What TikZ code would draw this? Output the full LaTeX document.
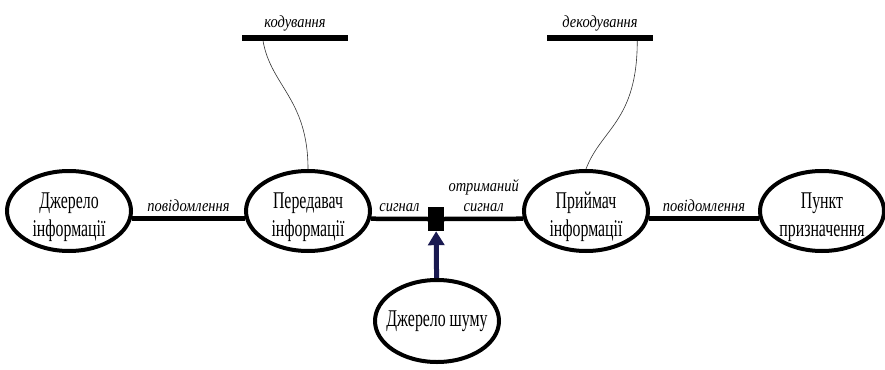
\documentclass[tikz,border=0pt]{standalone}
\usepackage{fontspec}
\setmainfont{Liberation Serif}
\usetikzlibrary{shapes.geometric,arrows.meta,positioning,calc}
\definecolor{navy}{RGB}{25,25,80}
% narrow (condensed) text
\newcommand{\sq}[2][0.66]{\scalebox{#1}[1]{#2}}

\begin{document}
\begin{tikzpicture}[
  x=1pt, y=-1pt,
  block/.style    = {draw, ellipse, line width=4pt, minimum width=124pt, minimum height=80pt, align=center, inner sep=0pt, text height=51pt, text depth=0pt, font=\fontsize{24}{28}\selectfont},
  noisesrc/.style = {draw, ellipse, line width=4pt, minimum width=124pt, minimum height=82pt, inner ysep=0pt, inner xsep=-8pt, font=\fontsize{24}{28}\selectfont},
  channel/.style  = {-, line width=4.5pt},
  mixer/.style    = {fill=black, rectangle, minimum width=16pt, minimum height=24pt, inner sep=0pt},
  codebar/.style  = {fill=black, rectangle, minimum width=106pt, minimum height=6pt, inner sep=0pt},
  lbl/.style      = {font=\fontsize{17}{20}\selectfont\itshape, inner sep=2pt, align=center},
  wire/.style     = {line width=0.6pt, black!80},
  noisearrow/.style = {-{Triangle[width=16pt,length=14pt]}, line width=5pt, draw=navy, fill=navy}]

  \useasboundingbox (0,0) rectangle (885,369);

  % the main chain, left to right
  \node[block] (src) at (69,211)  {\sq{Джерело}\\\sq{інформації}};
  \node[block] (tx)  at (308,211) {\sq{Передавач}\\\sq{інформації}};
  \node[mixer] (mix) at (436,219) {};
  \node[block] (rx)  at (586,211) {\sq{Приймач}\\\sq{інформації}};
  \node[block] (dst) at (822,211) {\sq{Пункт}\\\sq{призначення}};

  % the noise source below the channel
  \node[noisesrc] (noise) at (437,321) {\sq{Джерело шуму}};

  % coding and decoding bars with their labels
  \node[codebar] (enc) at (295,38) {};
  \node[lbl, above=1pt of enc] (encl) {\sq[0.85]{кодування}};
  \node[codebar] (dec) at (600,38) {};
  \node[lbl, above=1pt of dec] (decl) {\sq[0.85]{декодування}};

  % channel lines between the blocks
  \draw[channel] (src.-7) -- node[lbl, above=3pt] (m1) {\sq[0.85]{повідомлення}} (tx.187);
  \draw[channel] (tx.-7)  -- node[lbl, above=3pt] (s1) {\sq[0.85]{сигнал}} (mix.west);
  \draw[channel] (mix.east) -- node[lbl, above=3pt] (s2) {\sq[0.85]{отриманий}\\\sq[0.85]{сигнал}} (rx.187);
  \draw[channel] (rx.-7)  -- node[lbl, above=3pt] (m2) {\sq[0.85]{повідомлення}} (dst.187);

  % noise into the channel
  \draw[noisearrow] (noise) -- (mix);

  % thin wires from the bars down to the blocks
  \draw[wire] ($(enc.south west)!0.2!(enc.south east)$) .. controls +(8,45) and +(0,-70) .. (tx.north);
  \draw[wire] ($(dec.south west)!0.85!(dec.south east)$) .. controls +(0,80) and +(15,-40) .. (rx.north);
\end{tikzpicture}
\end{document}
